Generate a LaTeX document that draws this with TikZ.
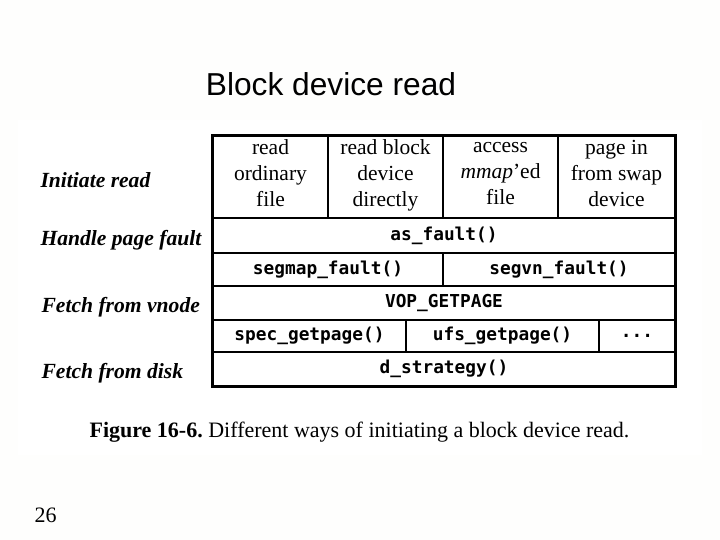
\documentclass[tikz,border=0pt]{standalone}
\usepackage{fontspec}
\setmainfont{Liberation Serif}
\newfontfamily\titlefont{Liberation Sans}
\newfontfamily\codefont{DejaVu Sans Mono}
\definecolor{slidebg}{rgb}{0.998,0.996,0.992}

\begin{document}
\begin{tikzpicture}[
  x=1pt, y=-1pt,
  cell/.style={draw, line width=1.6pt, inner sep=0pt, align=center},
  txt/.style={font=\fontsize{21.5}{26}\selectfont,
    execute at begin node=\strut, execute at end node=\strut},
  code/.style={font=\codefont\bfseries\fontsize{17.8}{20}\selectfont},
  lbl/.style={anchor=base west, font=\bfseries\itshape\fontsize{21.6}{26}\selectfont}
]
  \useasboundingbox (0,0) rectangle (720,540);
  \fill[slidebg] (0,0) rectangle (720,540);
  \fill[white] (18,120) rectangle (702,455);
  \node[anchor=base, font=\titlefont\fontsize{31.7}{36}\selectfont] (title) at (331,96) {Block device read};

  % row labels
  \node[lbl] (initiate) at (37,188) {Initiate read};
  \node[lbl] (handle)   at (37,245) {Handle page fault};
  \node[lbl] (vnode)    at (38,312) {Fetch from vnode};
  \node[lbl] (disk)     at (38,378) {Fetch from disk};

  % table
  \node[cell, txt, minimum width=115pt, minimum height=82pt] (rdfile) at (270.5,177) {read\\ordinary\\file};
  \node[cell, txt, minimum width=115pt, minimum height=82pt] (rdblk)  at (385.5,177) {read block\\device\\directly};
  \node[cell, txt, minimum width=115pt, minimum height=82pt] (mmap)   at (500.5,177) {access\\\textit{mmap}'ed\\file};
  \node[cell, txt, minimum width=117pt, minimum height=82pt] (swap)   at (616.5,177) {page in\\from swap\\device};
  \node[cell, code, minimum width=462pt, minimum height=35pt] (asfault) at (444,235.5) {as\_fault()};
  \node[cell, code, minimum width=230pt, minimum height=33pt] (segmap)  at (328,269.5) {segmap\_fault()};
  \node[cell, code, minimum width=232pt, minimum height=33pt] (segvn)   at (559,269.5) {segvn\_fault()};
  \node[cell, code, minimum width=462pt, minimum height=34pt] (vop)     at (444,303) {VOP\_GETPAGE};
  \node[cell, code, minimum width=193pt, minimum height=32pt] (spec)    at (309.5,336) {spec\_getpage()};
  \node[cell, code, minimum width=193pt, minimum height=32pt] (ufs)     at (502.5,336) {ufs\_getpage()};
  \node[cell, code, minimum width=76pt,  minimum height=32pt] (more)    at (637,336) {...};
  \node[cell, code, minimum width=462pt, minimum height=34pt] (dstrat)  at (444,369) {d\_strategy()};
  \draw[line width=3pt] (rdfile.north west) rectangle (dstrat.south east);

  \node[anchor=base, font=\fontsize{22}{26}\selectfont\frenchspacing] (caption) at (359.5,437)
    {\textbf{Figure 16-6.} Different ways of initiating a block device read.};
  \node[anchor=base west, font=\fontsize{22}{26}\selectfont] (page) at (31,522) {26};
\end{tikzpicture}
\end{document}
